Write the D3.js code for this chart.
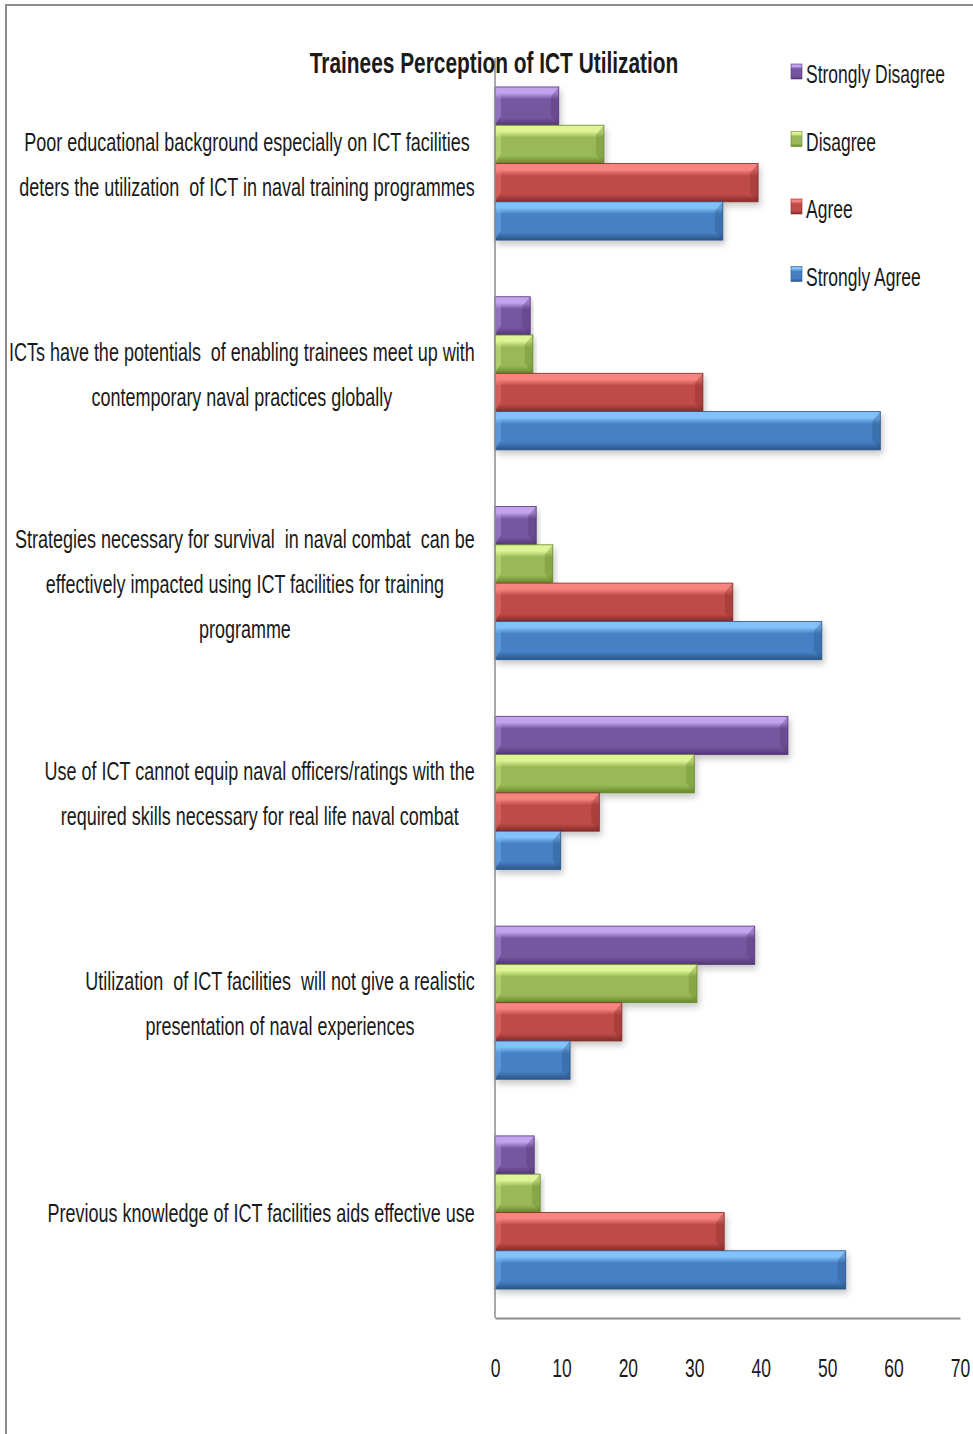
<!DOCTYPE html>
<html>
<head>
<meta charset="utf-8">
<script src="https://cdn.jsdelivr.net/npm/d3@7"></script>
<style>
  html, body { margin: 0; padding: 0; background: #fff; }
  svg { display: block; }
  text { font-family: "Liberation Sans", Arial, sans-serif; fill: #1a1a1a; }
</style>
</head>
<body>
<svg id="chart" width="973" height="1434"></svg>
<script>
// ---------- DATA ----------
const categories = [
  ["Poor educational background especially on ICT facilities", "deters the utilization  of ICT in naval training programmes"],
  ["ICTs have the potentials  of enabling trainees meet up with", "contemporary naval practices globally"],
  ["Strategies necessary for survival  in naval combat  can be", "effectively impacted using ICT facilities for training", "programme"],
  ["Use of ICT cannot equip naval officers/ratings with the", "required skills necessary for real life naval combat"],
  ["Utilization  of ICT facilities  will not give a realistic", "presentation of naval experiences"],
  ["Previous knowledge of ICT facilities aids effective use"]
];
const seriesNames = ["Strongly Disagree", "Disagree", "Agree", "Strongly Agree"];
const stronglyDisagree = [9.6, 5.3, 6.2, 44.1, 39.1, 5.9];
const disagree        = [16.4, 5.7, 8.7, 30.0, 30.4, 6.8];
const agree           = [39.6, 31.3, 35.8, 15.7, 19.1, 34.5];
const stronglyAgree   = [34.3, 58.0, 49.2, 9.9, 11.3, 52.8];
const xTicks = [0, 10, 20, 30, 40, 50, 60, 70];
const title = "Trainees Perception of ICT Utilization";

// ---------- STYLE ----------
const seriesValues = [stronglyDisagree, disagree, agree, stronglyAgree];
const palette = [
  { light: "#c3a2ee", main: "#7756a0", dark: "#533775" },
  { light: "#dff494", main: "#98b956", dark: "#67872c" },
  { light: "#f7847f", main: "#bf4c49", dark: "#852a28" },
  { light: "#82c1f9", main: "#4680c4", dark: "#2a5587" }
];
const SX = 0.72;   // horizontal compression of labels
const SXT = 0.72;  // title compression

const svg = d3.select("#chart");
const defs = svg.append("defs");

palette.forEach((p, i) => {
  const g = defs.append("linearGradient").attr("id", "grad" + i)
    .attr("x1", 0).attr("y1", 0).attr("x2", 0).attr("y2", 1);
  g.append("stop").attr("offset", "0%").attr("stop-color", p.light);
  g.append("stop").attr("offset", "16%").attr("stop-color", p.light);
  g.append("stop").attr("offset", "32%").attr("stop-color", p.main);
  g.append("stop").attr("offset", "80%").attr("stop-color", p.main);
  g.append("stop").attr("offset", "100%").attr("stop-color", p.dark);
});
const f = defs.append("filter").attr("id", "shadow")
  .attr("x", "-5%").attr("y", "-10%").attr("width", "115%").attr("height", "140%");
f.append("feDropShadow").attr("dx", 2).attr("dy", 4).attr("stdDeviation", 3)
  .attr("flood-color", "#000").attr("flood-opacity", 0.22);

// frame
svg.append("rect").attr("x", 6).attr("y", 5).attr("width", 1100).attr("height", 1600)
  .attr("fill", "#fff").attr("stroke", "#8c8c8c").attr("stroke-width", 2);

// ---------- SCALES ----------
const x = d3.scaleLinear().domain([0, 70]).range([495, 960]);
const y = d3.scaleBand().domain(d3.range(categories.length))
  .range([58, 1318]).paddingInner(0.27).paddingOuter(0.138);
const ySub = d3.scaleBand().domain(d3.range(seriesNames.length)).range([0, y.bandwidth()]);

// ---------- BARS ----------
const groups = svg.append("g").selectAll("g").data(categories).join("g")
  .attr("transform", (d, i) => `translate(0,${y(i)})`);

groups.each(function (cat, ci) {
  const g = d3.select(this);
  seriesNames.forEach((s, si) => {
    const v = seriesValues[si][ci];
    const bx = x(0), bw = x(v) - x(0), by = ySub(si), bh = ySub.bandwidth();
    g.append("rect")
      .attr("x", bx).attr("y", by).attr("width", bw).attr("height", bh)
      .attr("fill", `url(#grad${si})`)
      .attr("stroke", palette[si].dark).attr("stroke-width", 0.8)
      .attr("filter", "url(#shadow)");
    g.append("path")
      .attr("d", `M${bx + bw},${by} l-8,${bh * 0.25} l0,${bh * 0.5} l8,${bh * 0.25}`)
      .attr("fill", palette[si].dark).attr("opacity", 0.35);
    g.append("path")
      .attr("d", `M${bx},${by} l6,${bh * 0.25} l0,${bh * 0.5} l-6,${bh * 0.25}`)
      .attr("fill", palette[si].light).attr("opacity", 0.35);
  });
});

// ---------- AXES ----------
svg.append("line").attr("x1", x(0)).attr("x2", x(0)).attr("y1", 58).attr("y2", 1318)
  .attr("stroke", "#8c8c8c").attr("stroke-width", 1.5);
const xAxis = svg.append("g").attr("transform", "translate(0,1318)")
  .call(d3.axisBottom(x).tickValues(xTicks).tickSize(0).tickPadding(0).tickFormat(d3.format("d")));
xAxis.select(".domain").attr("stroke", "#8c8c8c").attr("stroke-width", 2);
xAxis.selectAll(".tick text").each(function () {
  d3.select(this).attr("y", 0).attr("dy", 0)
    .attr("transform", `translate(0,59) scale(0.70,1)`)
    .attr("font-size", 25).attr("fill", "#1a1a1a")
    .attr("font-family", "'Liberation Sans', Arial, sans-serif")
    .attr("text-anchor", "middle");
});

// ---------- CATEGORY LABELS ----------
const labelRight = 475, lineH = 45;
categories.forEach((lines, ci) => {
  const cy = y(ci) + y.bandwidth() / 2;
  const g = svg.append("g");
  const texts = lines.map(ln => g.append("text")
    .attr("font-size", 25).attr("text-anchor", "middle").attr("xml:space", "preserve")
    .text(ln));
  const widths = texts.map(t => t.node().getComputedTextLength() * SX);
  const maxW = d3.max(widths);
  const cx = labelRight - maxW / 2;
  texts.forEach((t, li) => {
    const ly = cy + (li - (lines.length - 1) / 2) * lineH + 10;
    t.attr("transform", `translate(${cx},${ly}) scale(${SX},1)`);
  });
});

// ---------- TITLE ----------
svg.append("text").attr("transform", `translate(494,73) scale(${SXT},1)`)
  .attr("text-anchor", "middle").attr("font-size", 29).attr("font-weight", "bold")
  .attr("fill", "#000").text(title);

// ---------- LEGEND ----------
const legend = svg.append("g");
seriesNames.forEach((s, si) => {
  const ly = 75 + si * 67.5;
  legend.append("rect").attr("x", 791).attr("y", ly - 11).attr("width", 11).attr("height", 15)
    .attr("fill", `url(#grad${si})`).attr("stroke", palette[si].dark).attr("stroke-width", 0.6);
  legend.append("text").attr("transform", `translate(806,${ly + 8}) scale(0.70,1)`)
    .attr("font-size", 25).text(s);
});
</script>
</body>
</html>
